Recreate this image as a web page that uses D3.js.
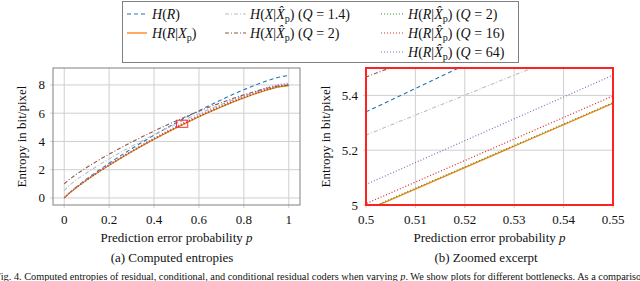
<!DOCTYPE html>
<html>
<head>
<meta charset="utf-8">
<script src="https://cdn.jsdelivr.net/npm/d3@7"></script>
<style>
  body { margin: 0; background: #fff; }
  svg text { font-family: 'Liberation Serif', 'DejaVu Serif', serif; fill: #111; }
</style>
</head>
<body>
<svg id="fig" width="640" height="281" font-family="Liberation Serif, DejaVu Serif, serif"></svg>
<script>
// prediction error probability p
var pVals = [0, 0.02, 0.05, 0.1, 0.15, 0.2, 0.25, 0.3, 0.35, 0.4, 0.45, 0.5, 0.55, 0.6, 0.65, 0.7, 0.75, 0.8, 0.85, 0.9, 0.95, 1];

// entropies in bit/pixel
var hR        = [0, 0.315, 0.720, 1.337, 1.912, 2.458, 2.981, 3.485, 3.972, 4.443, 4.899, 5.340, 5.767, 6.179, 6.576, 6.957, 7.321, 7.666, 7.988, 8.281, 8.532, 8.680];
var hRXp      = [0, 0.301, 0.684, 1.265, 1.804, 2.314, 2.801, 3.269, 3.720, 4.155, 4.575, 4.980, 5.371, 5.747, 6.108, 6.453, 6.781, 7.090, 7.376, 7.633, 7.848, 7.960];
var hXQ14     = [0.52, 0.850, 1.238, 1.784, 2.289, 2.766, 3.221, 3.658, 4.079, 4.485, 4.877, 5.255, 5.620, 5.971, 6.308, 6.630, 6.936, 7.224, 7.490, 7.728, 7.925, 8.020];
var hXQ2      = [1.0, 1.279, 1.630, 2.157, 2.643, 3.101, 3.536, 3.953, 4.354, 4.739, 5.110, 5.467, 5.810, 6.139, 6.454, 6.753, 7.036, 7.301, 7.543, 7.757, 7.930, 8.000];
var hRQ2      = [0, 0.304, 0.687, 1.268, 1.807, 2.317, 2.804, 3.272, 3.723, 4.158, 4.578, 4.983, 5.374, 5.750, 6.111, 6.456, 6.784, 7.093, 7.379, 7.636, 7.851, 7.963];
var hRQ16     = [0.005, 0.307, 0.691, 1.274, 1.815, 2.327, 2.816, 3.286, 3.739, 4.176, 4.598, 5.005, 5.398, 5.776, 6.139, 6.486, 6.816, 7.127, 7.415, 7.674, 7.891, 8.005];
var hRQ64     = [0.02, 0.324, 0.712, 1.300, 1.847, 2.364, 2.859, 3.334, 3.793, 4.235, 4.663, 5.075, 5.474, 5.857, 6.226, 6.578, 6.914, 7.230, 7.524, 7.788, 8.011, 8.130];

var xTicksA = [0, 0.2, 0.4, 0.6, 0.8, 1];
var yTicksA = [0, 2, 4, 6, 8];
var xTicksB = [0.5, 0.51, 0.52, 0.53, 0.54, 0.55];
var yTicksB = [5, 5.2, 5.4];

// label pieces: [text, style]  (i = italic, sub = subscript)
var series = [
  {v: hR,    color: "#1f77b4", dash: "4,3",     w: 1.1, col: 0, row: 0,
   label: [["H","i"],["("],["R","i"],[")"]]},
  {v: hRXp,  color: "#ff7f0e", dash: null,      w: 1.3, col: 0, row: 1,
   label: [["H","i"],["("],["R","i"],["|"],["X","i"],["p","sub"],[")"]]},
  {v: hXQ14, color: "#bdbdbd", dash: "4,2,1,2", w: 1.1, col: 1, row: 0,
   label: [["H","i"],["("],["X","i"],["|"],["X\u0302","i"],["p","sub"],[") ("],["Q","i"],[" = 1.4)"]]},
  {v: hXQ2,  color: "#8c564b", dash: "4,2,1,2", w: 1.1, col: 1, row: 1,
   label: [["H","i"],["("],["X","i"],["|"],["X\u0302","i"],["p","sub"],[") ("],["Q","i"],[" = 2)"]]},
  {v: hRQ2,  color: "#2ca02c", dash: "1,2",     w: 1.2, col: 2, row: 0,
   label: [["H","i"],["("],["R","i"],["|"],["X\u0302","i"],["p","sub"],[") ("],["Q","i"],[" = 2)"]]},
  {v: hRQ16, color: "#d62728", dash: "1,2",     w: 1.2, col: 2, row: 1,
   label: [["H","i"],["("],["R","i"],["|"],["X\u0302","i"],["p","sub"],[") ("],["Q","i"],[" = 16)"]]},
  {v: hRQ64, color: "#9467bd", dash: "1,2",     w: 1.2, col: 2, row: 2,
   label: [["H","i"],["("],["R","i"],["|"],["X\u0302","i"],["p","sub"],[") ("],["Q","i"],[" = 64)"]]}
];

var svg = d3.select("#fig");
var fs = 13;

function richText(sel, parts, size) {
  var shift = 0;
  parts.forEach(function(p) {
    var t = sel.append("tspan").text(p[0]);
    if (p[1] === "i") t.attr("font-style", "italic");
    if (p[1] === "sub") {
      t.attr("font-size", size * 0.72).attr("dy", 3);
      shift = 3;
    } else if (shift) {
      t.attr("dy", -shift);
      shift = 0;
    }
  });
}

function panel(opt) {
  var x = d3.scaleLinear().domain(opt.xDom).range([opt.left, opt.right]);
  var y = d3.scaleLinear().domain(opt.yDom).range([opt.bottom, opt.top]);
  var g = svg.append("g");

  var clipId = "clip" + opt.id;
  svg.append("clipPath").attr("id", clipId)
    .append("rect")
      .attr("x", opt.left).attr("y", opt.top)
      .attr("width", opt.right - opt.left).attr("height", opt.bottom - opt.top);

  // grid
  g.selectAll(".gx").data(opt.xTicks).enter().append("line")
    .attr("x1", function(d) { return x(d); }).attr("x2", function(d) { return x(d); })
    .attr("y1", opt.top).attr("y2", opt.bottom + 3)
    .attr("stroke", "#cfcfcf").attr("stroke-width", 1);
  g.selectAll(".gy").data(opt.yTicks).enter().append("line")
    .attr("y1", function(d) { return y(d); }).attr("y2", function(d) { return y(d); })
    .attr("x1", opt.left - 3).attr("x2", opt.right)
    .attr("stroke", "#cfcfcf").attr("stroke-width", 1);

  // tick labels
  g.selectAll(".tx").data(opt.xTicks).enter().append("text")
    .attr("x", function(d) { return x(d); })
    .attr("y", opt.bottom + 19)
    .attr("text-anchor", "middle")
    .attr("font-size", fs)
    .text(function(d) { return d3.format("")(d); });
  g.selectAll(".ty").data(opt.yTicks).enter().append("text")
    .attr("x", opt.left - 8)
    .attr("y", function(d) { return y(d) + 4.5; })
    .attr("text-anchor", "end")
    .attr("font-size", fs)
    .text(function(d) { return d3.format("")(d); });

  // curves
  var line = d3.line()
    .x(function(d, i) { return x(pVals[i]); })
    .y(function(d) { return y(d); });
  g.append("g").attr("clip-path", "url(#" + clipId + ")")
    .selectAll("path").data(series).enter().append("path")
      .attr("d", function(s) { return line(s.v); })
      .attr("fill", "none")
      .attr("stroke", function(s) { return s.color; })
      .attr("stroke-width", function(s) { return s.w; })
      .attr("stroke-dasharray", function(s) { return s.dash; });

  // frame
  g.append("rect")
    .attr("x", opt.left).attr("y", opt.top)
    .attr("width", opt.right - opt.left).attr("height", opt.bottom - opt.top)
    .attr("fill", "none")
    .attr("stroke", opt.frame).attr("stroke-width", opt.frameW);

  // axis labels
  var cx = (opt.left + opt.right) / 2;
  var xl = g.append("text")
    .attr("x", cx).attr("y", opt.bottom + 37)
    .attr("text-anchor", "middle").attr("font-size", fs);
  richText(xl, [["Prediction error probability "], ["p", "i"]], fs);
  g.append("text")
    .attr("transform", "translate(" + opt.ylabX + "," + ((opt.top + opt.bottom) / 2) + ") rotate(-90)")
    .attr("text-anchor", "middle").attr("font-size", fs)
    .text("Entropy in bit/pixel");
  g.append("text")
    .attr("x", opt.capX).attr("y", opt.bottom + 57)
    .attr("text-anchor", "middle").attr("font-size", fs)
    .text(opt.caption);

  return {x: x, y: y, g: g};
}

var a = panel({id: "a", xDom: [-0.05, 1.05], yDom: [-0.5, 9.2],
  left: 53, right: 300, top: 68, bottom: 205,
  xTicks: xTicksA, yTicks: yTicksA, frame: "#808080", frameW: 1,
  ylabX: 26, capX: 172, caption: "(a) Computed entropies"});

// zoom region marker
a.g.append("rect")
  .attr("x", a.x(xTicksB[0])).attr("y", a.y(5.5))
  .attr("width", a.x(0.55) - a.x(0.5)).attr("height", a.y(5) - a.y(5.5))
  .attr("fill", "none").attr("stroke", "#ff3030").attr("stroke-width", 1);

panel({id: "b", xDom: [0.5, 0.55], yDom: [5, 5.5],
  left: 366, right: 613, top: 68, bottom: 205,
  xTicks: xTicksB, yTicks: yTicksB, frame: "#ff2020", frameW: 2,
  ylabX: 330, capX: 486, caption: "(b) Zoomed excerpt"});

// legend
var colX = [[127, 147, 152], [225, 246, 250], [381, 403, 408]];
var rowY = [14, 33, 52];
var leg = svg.append("g");
leg.append("rect").attr("x", 122.5).attr("y", 1.5).attr("width", 396).attr("height", 61)
  .attr("fill", "#fff").attr("stroke", "#808080").attr("stroke-width", 1);
series.forEach(function(s) {
  var c = colX[s.col], yy = rowY[s.row];
  leg.append("line")
    .attr("x1", c[0]).attr("x2", c[1]).attr("y1", yy).attr("y2", yy)
    .attr("stroke", s.color).attr("stroke-width", s.w)
    .attr("stroke-dasharray", s.dash);
  var t = leg.append("text").attr("x", c[2]).attr("y", yy + 4.5).attr("font-size", 14);
  richText(t, s.label, 14);
});

// figure caption (the bottom edge cuts it, as in the source)
var cap = svg.append("text").attr("x", -5).attr("y", 280).attr("font-size", 10.3);
richText(cap, [["Fig. 4.  Computed entropies of residual, conditional, and conditional residual coders when varying "], ["p", "i"], [". We show plots for different bottlenecks. As a comparison"]], 10.3);
</script>
</body>
</html>
